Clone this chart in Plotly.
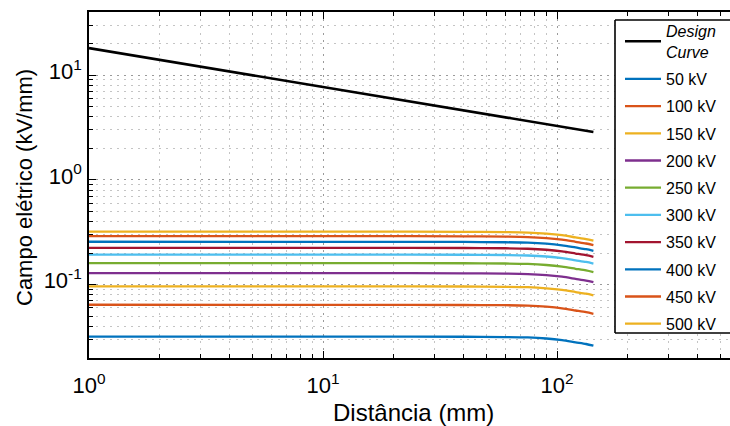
import plotly.graph_objects as go

# ---------------- data ----------------
distancia = [1, 20, 40, 60, 75, 90, 105, 120, 133, 143]          # mm

design_x = [1, 10, 143]
design_y = [18.1, 7.70, 2.87]                                     # kV/mm

tensoes = ["50 kV", "100 kV", "150 kV", "200 kV", "250 kV",
           "300 kV", "350 kV", "400 kV", "450 kV", "500 kV"]

e_50 = [0.0320, 0.0320, 0.0319, 0.0317, 0.0314, 0.0307, 0.0296, 0.0282, 0.0272, 0.0262]
e_100 = [0.0644, 0.0643, 0.0641, 0.0638, 0.0631, 0.0617, 0.0596, 0.0568, 0.0547, 0.0528]
e_150 = [0.0966, 0.0965, 0.0962, 0.0956, 0.0947, 0.0925, 0.0894, 0.0852, 0.0821, 0.0792]
e_200 = [0.1290, 0.1289, 0.1285, 0.1277, 0.1264, 0.1236, 0.1193, 0.1138, 0.1097, 0.1058]
e_250 = [0.1610, 0.1608, 0.1604, 0.1594, 0.1578, 0.1542, 0.1489, 0.1420, 0.1369, 0.1320]
e_300 = [0.1940, 0.1938, 0.1932, 0.1921, 0.1901, 0.1859, 0.1795, 0.1711, 0.1649, 0.1591]
e_350 = [0.2250, 0.2248, 0.2241, 0.2228, 0.2205, 0.2156, 0.2081, 0.1985, 0.1913, 0.1845]
e_400 = [0.2570, 0.2567, 0.2560, 0.2544, 0.2519, 0.2462, 0.2377, 0.2267, 0.2185, 0.2107]
e_450 = [0.2910, 0.2907, 0.2898, 0.2881, 0.2852, 0.2788, 0.2692, 0.2567, 0.2474, 0.2386]
e_500 = [0.3210, 0.3207, 0.3197, 0.3178, 0.3146, 0.3075, 0.2969, 0.2831, 0.2729, 0.2632]

campos = [e_50, e_100, e_150, e_200, e_250, e_300, e_350, e_400, e_450, e_500]

cores = ["#0072BD", "#D95319", "#EDB120", "#7E2F8E", "#77AC30",
         "#4DBEEE", "#A2142F", "#0072BD", "#D95319", "#EDB120"]

x_major = [1, 10, 100]
x_major_txt = ["10<sup>0</sup>", "10<sup>1</sup>", "10<sup>2</sup>"]
y_major = [0.1, 1, 10]
y_major_txt = ["10<sup>-1</sup>", "10<sup>0</sup>", "10<sup>1</sup>"]

# ---------------- figure ----------------
FONT = "Liberation Sans, Arial, Helvetica, sans-serif"

fig = go.Figure()
fig.add_trace(go.Scatter(
    x=design_x, y=design_y, mode="lines",
    name="<i>Design</i><br><i>Curve</i>",
    line=dict(color="black", width=2.6),
    legendgroup="g0"))

for i, (nome, vals, cor) in enumerate(zip(tensoes, campos, cores)):
    fig.add_trace(go.Scatter(
        x=distancia, y=vals, mode="lines", name=nome,
        line=dict(color=cor, width=2.3, shape="spline", smoothing=0.8),
        legendgroup=f"g{i+1}"))

x_minor = [m * 10 ** k for k in range(0, 3) for m in range(2, 10)]
y_minor = [m * 10 ** k for k in range(-2, 2) for m in range(2, 10)]

W, H = 730, 426
ML, MR, MT, MB = 89, 0, 12, 68

grid_minor = dict(showgrid=True, gridcolor="#c4c4c4", griddash="2px,5px", gridwidth=1)

fig.update_xaxes(
    type="log", range=[0, 2.739],
    tickvals=x_major, ticktext=x_major_txt,
    ticks="inside", ticklen=7, tickwidth=1.2, tickcolor="black",
    showline=True, linecolor="black", linewidth=1.6, mirror="ticks",
    showgrid=True, gridcolor="#9a9a9a", griddash="2px,5px", gridwidth=1,
    tickfont=dict(family=FONT, size=22, color="black"),
    ticklabelstandoff=7,
    minor=dict(tickvals=x_minor, ticks="inside", ticklen=4, tickwidth=1,
               tickcolor="black", **grid_minor),
    zeroline=False,
)
fig.update_yaxes(
    type="log", range=[-1.69897, 1.60206],
    tickvals=y_major, ticktext=y_major_txt,
    ticks="inside", ticklen=7, tickwidth=1.2, tickcolor="black",
    showline=True, linecolor="black", linewidth=1.6, mirror=False,
    showgrid=True, gridcolor="#9a9a9a", griddash="2px,5px", gridwidth=1,
    tickfont=dict(family=FONT, size=22, color="black"),
    ticklabelshift=-4, ticklabelstandoff=1,
    minor=dict(tickvals=y_minor, ticks="inside", ticklen=4, tickwidth=1,
               tickcolor="black", **grid_minor),
    zeroline=False,
)

pw = W - ML - MR
ph = H - MT - MB


def px_x(p):
    return (p - ML) / pw


def px_y(p):
    return ((H - MB) - p) / ph


fig.add_annotation(
    text="Distância (mm)", xref="paper", yref="paper",
    x=px_x(413), y=px_y(412),
    xanchor="center", yanchor="middle", showarrow=False,
    font=dict(family=FONT, size=24, color="black"))
fig.add_annotation(
    text="Campo elétrico (kV/mm)", xref="paper", yref="paper",
    x=px_x(24), y=px_y(188),
    xanchor="center", yanchor="middle", textangle=-90, showarrow=False,
    font=dict(family=FONT, size=22, color="black"))

# legend frame: white box whose right side runs past the figure edge
lx0, lx1, ly0, ly1 = px_x(615), px_x(800), px_y(333), px_y(20)
fig.add_shape(type="rect", xref="paper", yref="paper",
              x0=lx0, x1=lx1, y0=ly0, y1=ly1,
              line=dict(width=0), fillcolor="white", layer="above")
for (a0, b0, a1, b1) in [(lx0, ly1, lx1, ly1), (lx0, ly0, lx1, ly0), (lx0, ly0, lx0, ly1)]:
    fig.add_shape(type="line", xref="paper", yref="paper",
                  x0=a0, y0=b0, x1=a1, y1=b1,
                  line=dict(color="black", width=1.6), layer="above")

fig.update_layout(
    width=W, height=H,
    margin=dict(l=ML, r=MR, t=MT, b=MB, autoexpand=False),
    paper_bgcolor="white", plot_bgcolor="white",
    font=dict(family=FONT, color="black"),
    showlegend=True,
    legend=dict(
        x=px_x(620), y=px_y(14),
        xanchor="left", yanchor="top",
        bgcolor="rgba(0,0,0,0)", borderwidth=0,
        font=dict(family=FONT, size=16, color="black"),
        tracegroupgap=3.4, itemwidth=36,
    ),
)

fig.write_html(
    "out.html",
    config={"displayModeBar": False},
    post_script="document.body.style.margin='0';document.body.style.overflow='hidden';",
)
